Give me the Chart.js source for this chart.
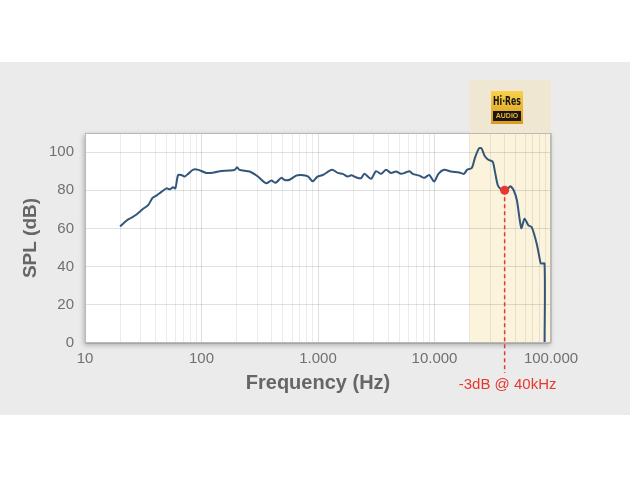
<!DOCTYPE html>
<html>
<head>
<meta charset="utf-8">
<script src="https://cdn.jsdelivr.net/npm/chart.js@4.4.1/dist/chart.umd.min.js"></script>
<style>
  html, body { margin: 0; padding: 0; }
  body {
    width: 630px; height: 480px;
    background: linear-gradient(#fff 0, #fff 62px, #ebebeb 62px, #ebebeb 415px, #fff 415px);
  }
  canvas { display: block; }
</style>
</head>
<body>
<canvas id="fr" width="630" height="480"></canvas>
<script>
// Frequency response (Hz / dB SPL)
const freqHz = [
  20, 22.8, 25, 27.7, 31.6, 35, 38, 41, 45, 50, 53.5, 57, 59.6, 63, 67, 71.7, 76.8, 85, 94,
  110, 130, 143, 174, 193, 202, 212, 259, 305, 359, 398, 433, 484, 517, 570, 650, 715, 820,
  900, 990, 1100, 1260, 1340, 1480, 1630, 1800, 1930, 2120, 2340, 2500, 2850, 3150, 3480,
  3830, 4230, 4680, 5160, 5700, 6090, 6500, 7410, 8170, 9010, 9930, 10800, 12100, 13800,
  16300, 17900, 19100, 20900, 22300, 24100, 25300, 26900, 29000, 31600, 32900, 35000, 37300,
  39700, 41800, 44600, 47900, 51000, 55600, 59300, 64000, 68300, 75400, 81000, 82000, 88000, 88100
];
const splDb = [
  61, 64.2, 65.6, 67.3, 70.3, 72.4, 76, 77.2, 79, 81, 80.5, 81.6, 81, 88, 88, 87.2, 88.6, 90.8, 90.7,
  89.1, 89.4, 90, 90.3, 90.7, 92, 90.7, 89.8, 87.2, 83.7, 85.1, 83.9, 86.5, 85.4, 85.5, 87.7, 88, 87.3,
  84.7, 87.2, 88, 90.3, 90.7, 89.1, 88.6, 87.2, 87.9, 86.8, 86.3, 88.6, 86, 90, 88.6,
  90.7, 89.1, 89.8, 88.6, 89.4, 90, 88.6, 87.7, 86.5, 88, 84.6, 88.6, 90.7, 89.8,
  89.3, 88.6, 90.8, 91.7, 97.2, 102, 102, 98.1, 96, 95, 90.3, 82.5, 80.4,
  79, 79.9, 82.1, 79.9, 74.7, 60.2, 65.1, 61.6, 60.7, 52, 42.4, 41.6, 41.6, 0
];

const yTicks = [0, 20, 40, 60, 80, 100];
const xDecades = [10, 100, 1000, 10000, 100000];
const xDecadeLabels = ['10', '100', '1.000', '10.000', '100.000'];

const hiResStart = 20000;      // shaded Hi-Res band starts here
const markFreq = 40000;        // -3 dB marker
const markDb = 80;
const markLabel = '-3dB @ 40kHz';

const FONT = '"Liberation Sans", Arial, Helvetica, sans-serif';
const LINE = '#32567a';
const RED = '#e5392f';

// minor log grid: 1..9 per decade
const xGrid = [];
xDecades.slice(0, -1).forEach(function (d) {
  for (let m = 1; m < 10; m++) xGrid.push(d * m);
});
xGrid.push(xDecades[xDecades.length - 1]);

function drawHiRes(ctx, cx, top) {
  const w = 32, h = 33, x0 = Math.round(cx - w / 2);
  const g = ctx.createLinearGradient(0, top, 0, top + h);
  g.addColorStop(0, '#f8d24a');
  g.addColorStop(1, '#d89a1e');
  ctx.fillStyle = g;
  ctx.fillRect(x0, top, w, h);
  ctx.fillStyle = '#1c1511';
  ctx.fillRect(x0 + 2, top + 20, w - 4, 10);

  ctx.textAlign = 'center';
  ctx.textBaseline = 'middle';
  ctx.font = 'bold 12px "DejaVu Sans Condensed", ' + FONT;
  const tw = ctx.measureText('Hi·Res').width;
  ctx.save();
  ctx.translate(x0 + w / 2, top + 10.5);
  ctx.scale(Math.min(1, 28 / tw), 1);
  ctx.fillStyle = '#1c1511';
  ctx.fillText('Hi·Res', 0, 0);
  ctx.restore();
  ctx.fillStyle = '#eab53c';
  ctx.font = 'bold 7px ' + FONT;
  ctx.fillText('AUDIO', x0 + w / 2, top + 25.5);
}

const plotDecor = {
  id: 'plotDecor',
  beforeDraw(chart) {
    const { ctx, chartArea: a, scales } = chart;
    const xs = scales.x.getPixelForValue(hiResStart);
    ctx.save();
    // plot panel with soft shadow
    ctx.shadowColor = 'rgba(0,0,0,0.28)';
    ctx.shadowBlur = 5;
    ctx.shadowOffsetX = -1;
    ctx.shadowOffsetY = 2;
    ctx.fillStyle = '#fff';
    ctx.fillRect(a.left, a.top, a.right - a.left, a.bottom - a.top);
    ctx.restore();

    ctx.save();
    ctx.fillStyle = '#efe7d1';
    ctx.fillRect(xs, 80, a.right - xs, a.top - 80);
    ctx.fillStyle = '#fbf3dc';
    ctx.fillRect(xs, a.top, a.right - xs, a.bottom - a.top);
    drawHiRes(ctx, (xs + a.right) / 2 - 3, 91);
    ctx.restore();
  },
  afterDraw(chart) {
    const { ctx, chartArea: a, scales } = chart;
    ctx.save();
    ctx.strokeStyle = '#b9b9b9';
    ctx.lineWidth = 1;
    ctx.strokeRect(a.left + 0.5, a.top + 0.5, a.right - a.left - 1, a.bottom - a.top - 1);

    const mx = scales.x.getPixelForValue(markFreq);
    const my = scales.y.getPixelForValue(markDb);
    ctx.strokeStyle = RED;
    ctx.lineWidth = 1.5;
    ctx.setLineDash([4, 3]);
    ctx.beginPath();
    ctx.moveTo(mx, my);
    ctx.lineTo(mx, 373);
    ctx.stroke();
    ctx.setLineDash([]);
    ctx.fillStyle = RED;
    ctx.beginPath();
    ctx.arc(mx, my, 4.5, 0, Math.PI * 2);
    ctx.fill();

    ctx.font = '15px ' + FONT;
    ctx.textAlign = 'center';
    ctx.textBaseline = 'middle';
    ctx.fillText(markLabel, mx + 3, 385);
    ctx.restore();
  }
};

new Chart(document.getElementById('fr'), {
  type: 'line',
  data: {
    datasets: [{
      data: freqHz.map(function (f, i) { return { x: f, y: splDb[i] }; }),
      borderColor: LINE,
      borderWidth: 2,
      pointRadius: 0,
      tension: 0.25,
      fill: false
    }]
  },
  options: {
    responsive: false,
    animation: false,
    layout: { padding: { left: 0, right: 79, top: 133, bottom: 85 } },
    plugins: { legend: { display: false }, tooltip: { enabled: false } },
    scales: {
      x: {
        type: 'logarithmic',
        min: 10,
        max: 100000,
        afterBuildTicks: function (s) { s.ticks = xGrid.map(function (v) { return { value: v }; }); },
        afterFit: function (s) { s.height = 52; },
        border: { display: false },
        grid: {
          drawTicks: false,
          color: function (c) {
            return c.tick && xDecades.indexOf(c.tick.value) >= 0 ? 'rgba(0,0,0,0.13)' : 'rgba(0,0,0,0.075)';
          }
        },
        ticks: {
          autoSkip: false,
          maxRotation: 0,
          minRotation: 0,
          padding: 7,
          color: '#707070',
          font: { family: FONT, size: 15 },
          callback: function (v) {
            const i = xDecades.indexOf(v);
            return i >= 0 ? xDecadeLabels[i] : '';
          }
        },
        title: {
          display: true,
          text: 'Frequency (Hz)',
          color: '#666',
          font: { family: FONT, size: 20, weight: 'bold' },
          padding: { top: 0, bottom: 0 }
        }
      },
      y: {
        min: 0,
        max: 110,
        afterBuildTicks: function (s) { s.ticks = yTicks.map(function (v) { return { value: v }; }); },
        afterFit: function (s) { s.width = 85; },
        border: { display: false },
        grid: { drawTicks: false, color: 'rgba(0,0,0,0.12)' },
        ticks: {
          padding: 11,
          color: '#707070',
          font: { family: FONT, size: 15 }
        },
        title: {
          display: true,
          text: 'SPL (dB)',
          color: '#666',
          font: { family: FONT, size: 19, weight: 'bold' },
          padding: { top: 19, bottom: 0 }
        }
      }
    }
  },
  plugins: [plotDecor]
});
</script>
</body>
</html>
